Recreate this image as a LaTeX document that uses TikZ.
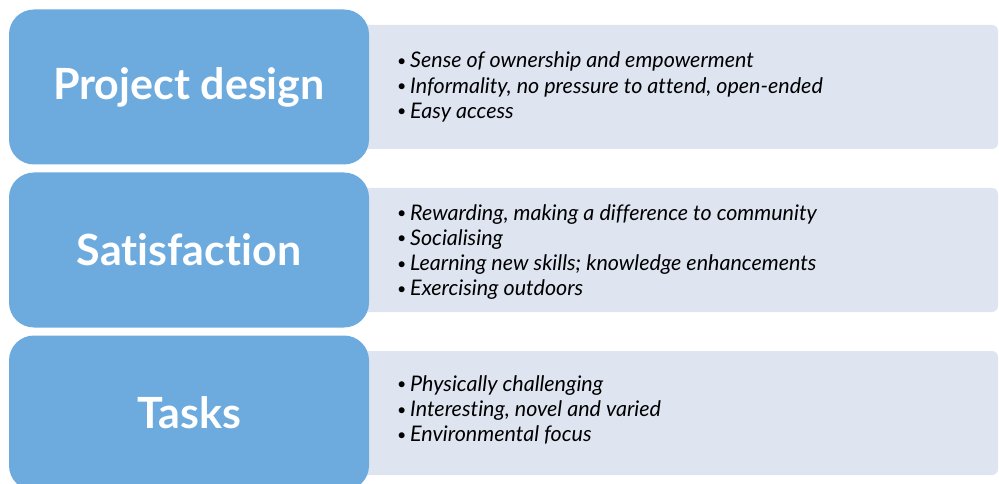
\documentclass[tikz,border=0pt]{standalone}
\usepackage{fontspec}
\setmainfont{Lato}[Ligatures=NoCommon]
\definecolor{headblue}{RGB}{109,171,222}
\definecolor{listbg}{RGB}{222,229,241}
\tikzset{
  x=1pt, y=-1pt,
  headbox/.style={fill=headblue, rounded corners=25pt, minimum width=360pt,
    minimum height=155pt, inner sep=0pt, text=white,
    font=\fontsize{43}{46}\selectfont\bfseries},
  listbox/.style={fill=listbg, rounded corners=6pt},
  listtext/.style={anchor=west, align=left, inner sep=0pt, text=black,
    font=\fontsize{21.5}{25.3}\selectfont\itshape},
}
\newcommand{\itm}[1]{\makebox[13pt][l]{\raisebox{1.5pt}{\fontsize{16}{16}\selectfont\upshape\textbullet}}#1}
\begin{document}
\begin{tikzpicture}
\useasboundingbox (0,0) rectangle (999,484);
\clip (0,0) rectangle (999,484);
% light panels behind the headings
\fill[listbox] (340,25) rectangle (998,149);
\fill[listbox] (340,188) rectangle (998,312);
\fill[listbox] (340,351) rectangle (998,475);
% headings
\node[headbox] (pd) at (189,87) {Project design};
\node[headbox] (sat) at (189,250) {Satisfaction};
\node[headbox] (tsk) at (189,413) {Tasks};
% bullet lists
\node[listtext] (pdl) at (397,87) {\itm{Sense of ownership and empowerment}\\
  \itm{Informality, no pressure to attend, open-ended}\\
  \itm{Easy access}};
\node[listtext] (satl) at (397,252) {\itm{Rewarding, making a difference to community}\\
  \itm{Socialising}\\
  \itm{Learning new skills; knowledge enhancements}\\
  \itm{Exercising outdoors}};
\node[listtext] (tskl) at (397,410) {\itm{Physically challenging}\\
  \itm{Interesting, novel and varied}\\
  \itm{Environmental focus}};
\end{tikzpicture}
\end{document}
